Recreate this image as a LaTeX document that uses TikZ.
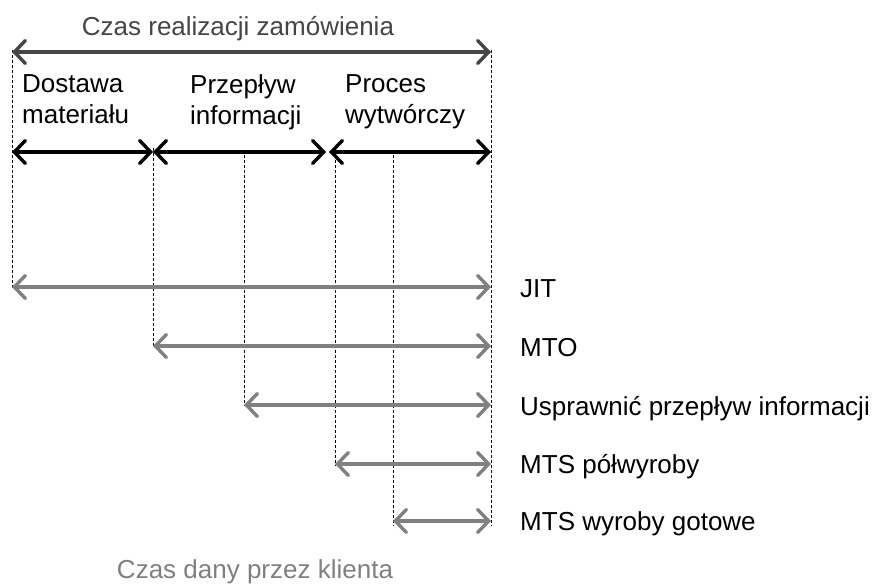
\documentclass[tikz,border=0pt]{standalone}
\usepackage{fontspec}
\setmainfont{Liberation Sans}
\usetikzlibrary{arrows.meta}
\begin{document}
\begin{tikzpicture}[x=1pt,y=-1pt,
    guide/.style={densely dashed, line width=0.6pt, black},
    span/.style={line width=3.4pt, {Straight Barb[length=11pt,width=23pt,line cap=round]}-{Straight Barb[length=11pt,width=23pt,line cap=round]}},
    label/.style={font=\fontsize{26}{31}\selectfont, inner sep=0pt, anchor=base west},
    phase/.style={font=\fontsize{26}{31}\selectfont, inner sep=0pt, anchor=north west, align=left}]
        \useasboundingbox (0,0) rectangle (874,584);
        \definecolor{darkgr}{HTML}{454545}
        \definecolor{midgr}{HTML}{808080}

        % Define the ends of the guide lines
        \coordinate (T1) at (12, 50);   \coordinate (B1) at (12, 288);
        \coordinate (T2) at (153, 148); \coordinate (B2) at (153, 346);
        \coordinate (T3) at (244, 155); \coordinate (B3) at (244, 406);
        \coordinate (T4) at (335, 155); \coordinate (B4) at (335, 466);
        \coordinate (T5) at (393, 155); \coordinate (B5) at (393, 526);
        \coordinate (T6) at (491, 50);  \coordinate (B6) at (491, 526);

        % Draw dashed guide lines
        \draw[guide] (T1) -- (B1);
        \draw[guide] (T2) -- (B2);
        \draw[guide] (T3) -- (B3);
        \draw[guide] (T4) -- (B4);
        \draw[guide] (T5) -- (B5);
        \draw[guide] (T6) -- (B6);

        % Top span: order lead time
        \node[font=\fontsize{26}{31}\selectfont, text=darkgr, inner sep=0pt, anchor=base] (total) at (238, 35) {Czas realizacji zamówienia};
        \coordinate (L0) at (12, 52);
        \coordinate (R0) at (491, 52);
        \draw[span, darkgr] (L0) -- (R0);

        % Phases
        \node[phase] (supply) at (22, 74) {Dostawa\\materiału};
        \node[phase] (info) at (190, 74) {Przepływ\\informacji};
        \node[phase] (prod) at (345, 74) {Proces\\wytwórczy};
        \coordinate (P0) at (12, 152);
        \coordinate (P1) at (153, 152);
        \coordinate (P2) at (326, 152);
        \coordinate (P3) at (329, 152);
        \coordinate (P4) at (491, 152);
        \draw[span, black] (P0) -- (P1);
        \draw[span, black] (P1) -- (P2);
        \draw[span, black] (P3) -- (P4);

        % Strategies
        \coordinate (S1) at (12, 287);  \coordinate (E1) at (491, 287);
        \coordinate (S2) at (153, 346); \coordinate (E2) at (491, 346);
        \coordinate (S3) at (244, 405); \coordinate (E3) at (491, 405);
        \coordinate (S4) at (335, 464); \coordinate (E4) at (491, 464);
        \coordinate (S5) at (393, 521); \coordinate (E5) at (491, 521);
        \draw[span, midgr] (S1) -- (E1);
        \draw[span, midgr] (S2) -- (E2);
        \draw[span, midgr] (S3) -- (E3);
        \draw[span, midgr] (S4) -- (E4);
        \draw[span, midgr] (S5) -- (E5);
        \node[label] (jit) at (520, 297) {JIT};
        \node[label] (mto) at (520, 356) {MTO};
        \node[label] (info2) at (520, 415) {Usprawnić przepływ informacji};
        \node[label] (mtsp) at (520, 473) {MTS półwyroby};
        \node[label] (mtsw) at (520, 530) {MTS wyroby gotowe};

        % Bottom caption
        \node[font=\fontsize{26}{31}\selectfont, text=midgr, inner sep=0pt, anchor=base] (client) at (255, 578) {Czas dany przez klienta};

    \end{tikzpicture}
\end{document}
